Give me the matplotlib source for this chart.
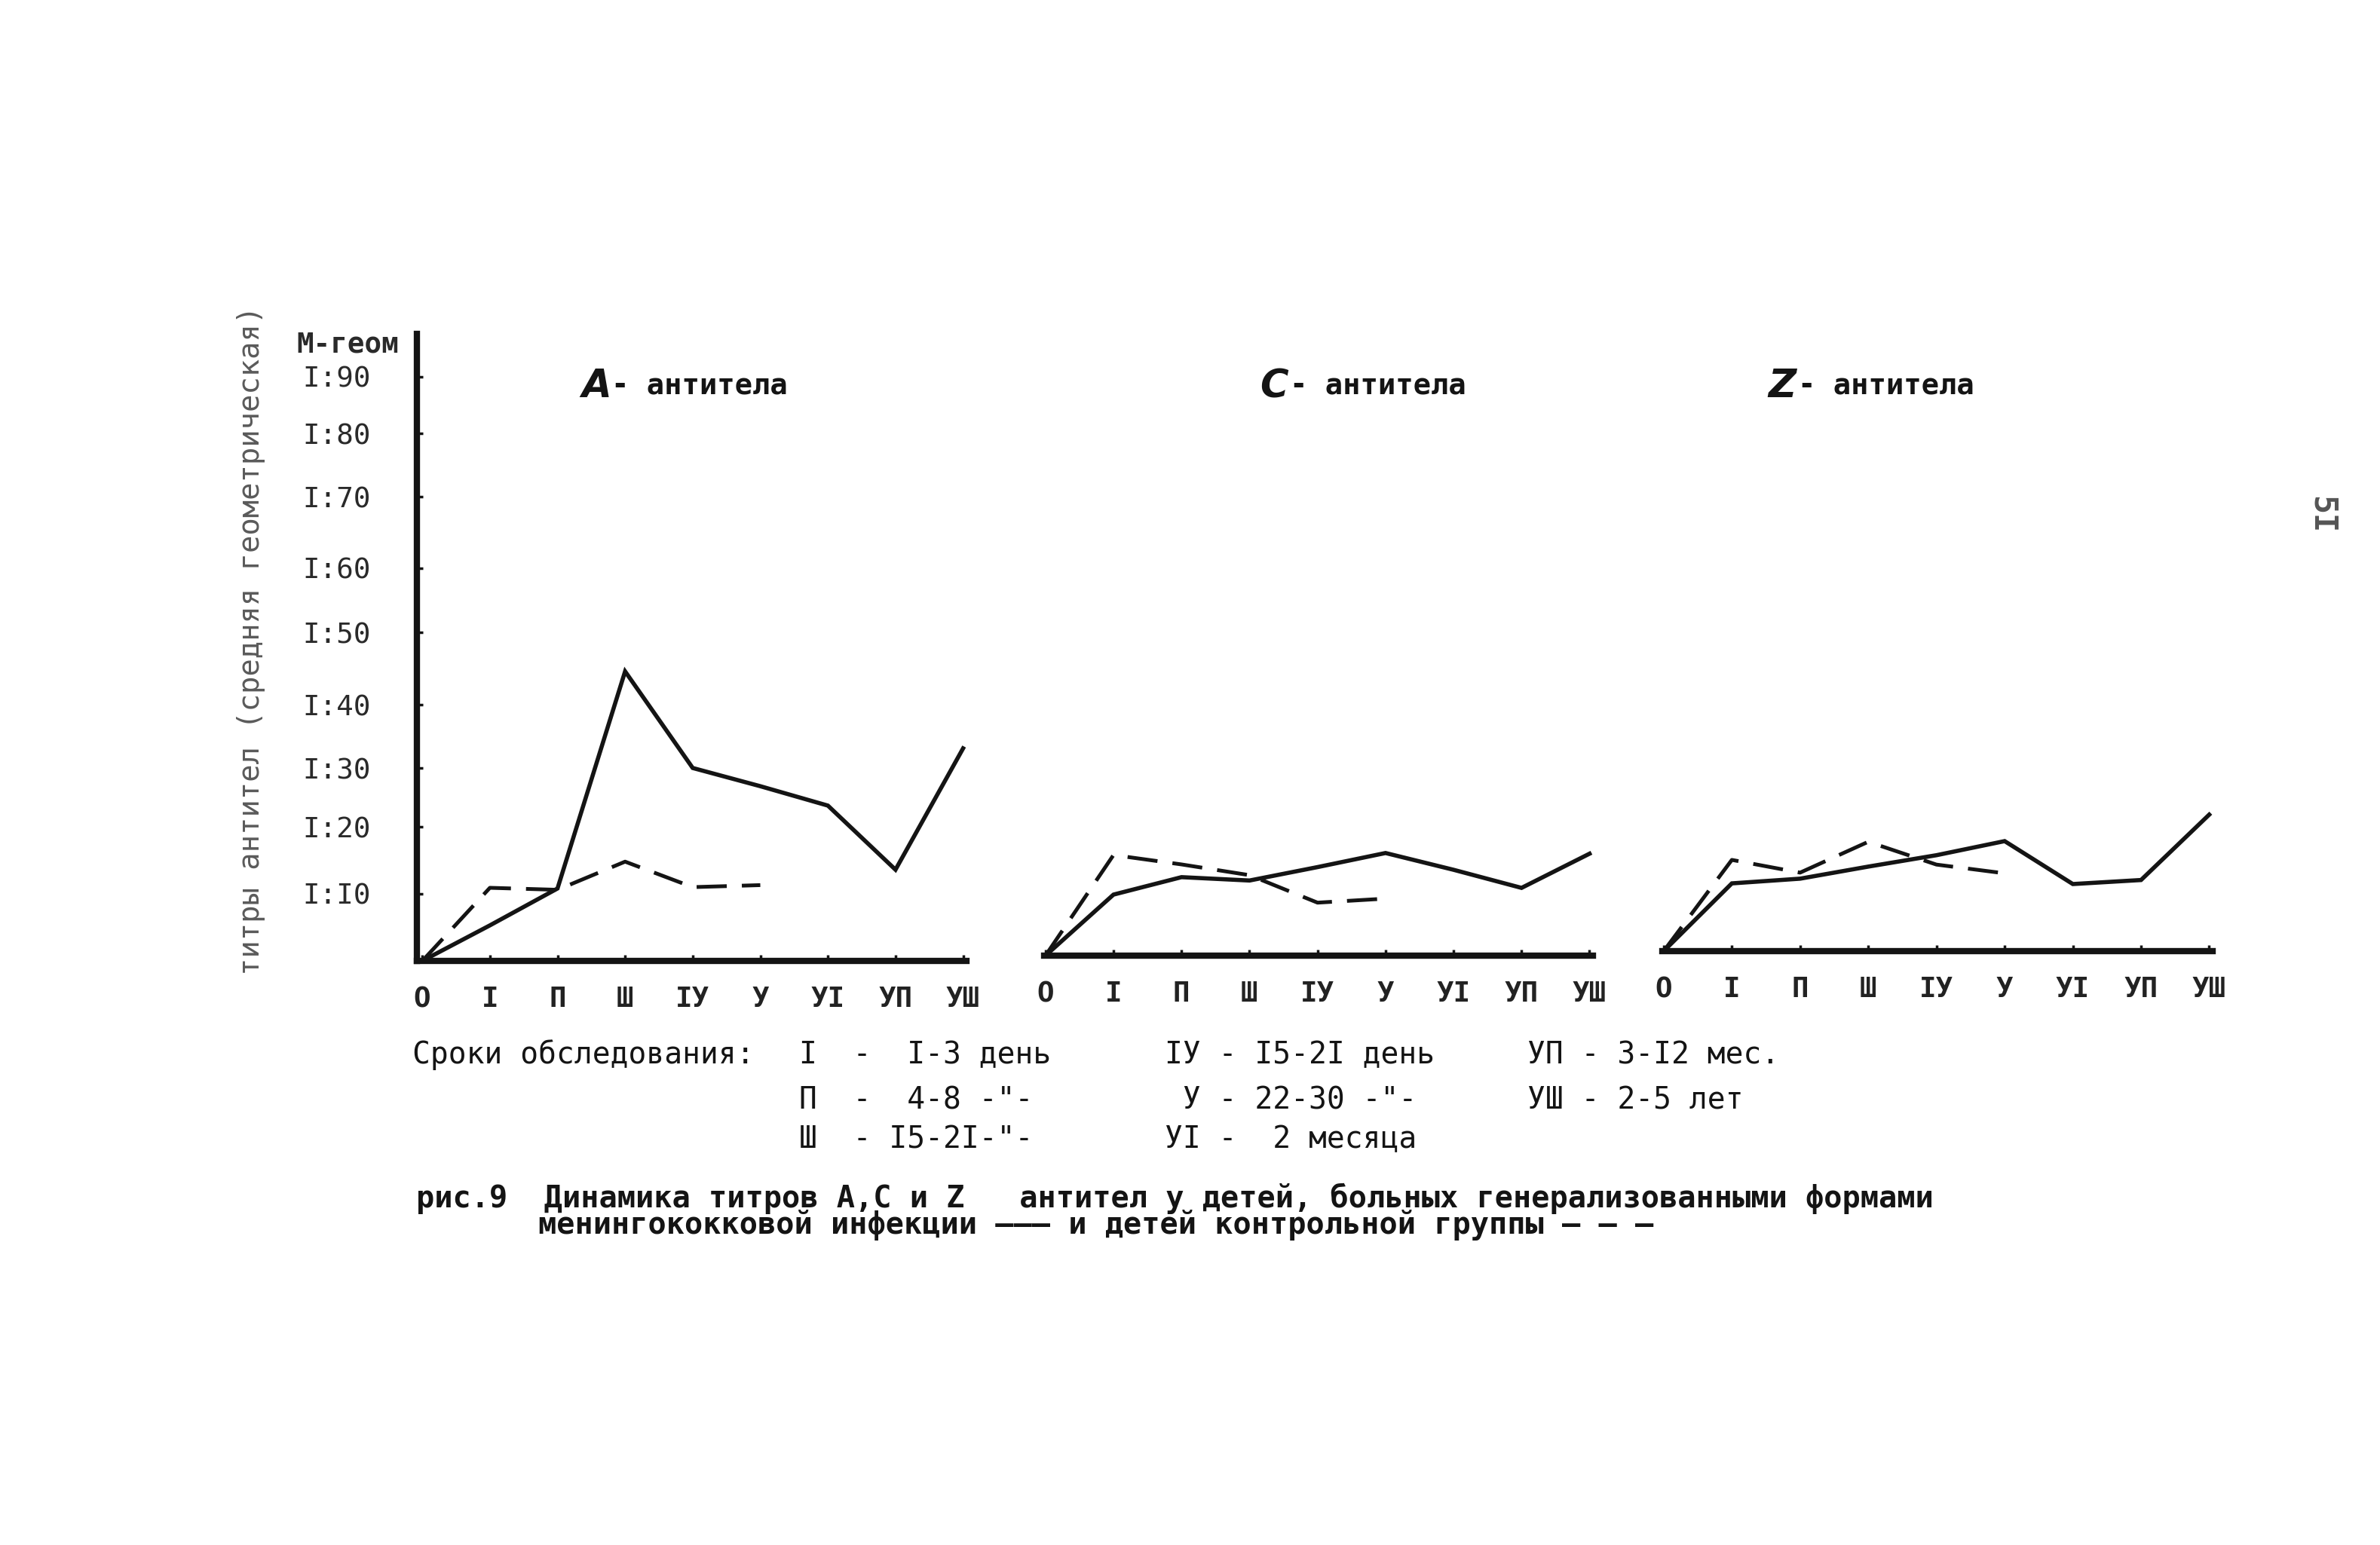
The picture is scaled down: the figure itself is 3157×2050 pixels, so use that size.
import numpy as np
import matplotlib.pyplot as plt

# observation periods (x axis), same for all three panels
periods = ['О', 'I', 'П', 'Ш', 'IУ', 'У', 'УI', 'УП', 'УШ']
x_all = np.arange(len(periods))
x_ctrl = x_all[:6]  # control group measured only up to "У"

# titres (1:N)
a_patients = [0, 5.3, 10.8, 44.6, 30.0, 26.9, 23.6, 13.6, 33.1]
a_control = [0, 10.9, 10.6, 14.8, 11.0, 11.3]
c_patients = [0, 9.1, 11.7, 11.2, 13.2, 15.3, 12.8, 10.1, 15.2]
c_control = [0, 15.0, 13.6, 12.0, 7.9, 8.5]
z_patients = [0, 10.1, 10.8, 12.6, 14.3, 16.4, 10.0, 10.6, 20.4]
z_control = [0, 13.6, 11.7, 16.3, 12.9, 11.6]

# the y axis was drawn by hand, the tick marks are not evenly spaced
y_ticks = [10, 20, 30, 40, 50, 60, 70, 80, 90]
y_ticklabels = ['I:I0', 'I:20', 'I:30', 'I:40', 'I:50', 'I:60', 'I:70', 'I:80', 'I:90']
tick_heights = [89, 178, 256, 340, 436, 521, 616, 700, 775]

legend_rows = [
    ['I  -  I-3 день', 'IУ - I5-2I день', 'УП - 3-I2 мес.'],
    ['П  -  4-8 -"-', ' У - 22-30 -"-', 'УШ - 2-5 лет'],
    ['Ш  - I5-2I-"-', 'УI -  2 месяца', ''],
]

ink = '#141414'
mono = 'DejaVu Sans Mono'
plt.rcParams['font.family'] = [mono, 'DejaVu Sans']

sv = np.array([-100, 0] + y_ticks + [200], dtype=float)
sp = np.array([-890, 0] + tick_heights + [775 + 110 * 7.5], dtype=float)


def fwd(v):
    return np.interp(v, sv, sp)


def inv(p):
    return np.interp(p, sp, sv)


W, H = 3157, 2050
fig = plt.figure(figsize=(W / 100, H / 100), dpi=100)
fig.patch.set_facecolor('white')

ytop = 97.6
ax_h = 832 / H


def make_ax(left_px, right_px, base_px, x0):
    ax = fig.add_axes([left_px / W, (H - base_px) / H, (right_px - left_px) / W, ax_h])
    ax.set_yscale('function', functions=(fwd, inv))
    ax.set_ylim(0, ytop)
    ax.set_xlim(x0, 8.05)
    for s in ['top', 'right']:
        ax.spines[s].set_visible(False)
    ax.spines['bottom'].set_linewidth(6)
    ax.spines['bottom'].set_color(ink)
    ax.set_xticks(x_all)
    ax.set_xticklabels(periods)
    ax.tick_params(axis='x', direction='in', length=6, width=2.5, color=ink,
                   pad=24, labelsize=27, labelcolor='#222222')
    for lab in ax.get_xticklabels():
        lab.set_fontweight('bold')
    ax.set_facecolor('none')
    return ax


ax_a = make_ax(553, 1282, 1275, -0.08)
ax_c = make_ax(1385, 2113, 1268, -0.02)
ax_z = make_ax(2205, 2935, 1262, -0.02)

ax_a.spines['left'].set_linewidth(6)
ax_a.spines['left'].set_color(ink)
ax_a.set_yticks(y_ticks)
ax_a.set_yticklabels(y_ticklabels)
ax_a.yaxis.set_minor_locator(plt.NullLocator())
ax_a.tick_params(axis='y', direction='in', length=6, width=2.5, color=ink,
                 pad=44, labelsize=27, labelcolor='#2a2a2a')

for ax in [ax_c, ax_z]:
    ax.spines['left'].set_visible(False)
    ax.set_yticks([])
    ax.yaxis.set_minor_locator(plt.NullLocator())

panels = [(ax_a, a_patients, a_control), (ax_c, c_patients, c_control),
          (ax_z, z_patients, z_control)]
for ax, pat, ctl in panels:
    ax.plot(x_all, pat, color=ink, lw=4, solid_joinstyle='miter', clip_on=False)
    ax.plot(x_ctrl, ctl, color=ink, lw=3.6, dashes=(8, 4), clip_on=False)

# panel titles
titles = [(771, 'А'), (1671, 'С'), (2345, 'Z')]
for xpx, letter in titles:
    fig.text(xpx / W, 1 - 513 / H, letter, fontsize=37, fontweight='bold',
             fontstyle='italic', family='DejaVu Sans', color=ink, va='center')
    fig.text((xpx + 40) / W, 1 - 513 / H, '- антитела', fontsize=28,
             fontweight='bold', color=ink, va='center')

fig.text(393 / W, 1 - 457 / H, 'M-геом', fontsize=27, fontweight='bold',
         color='#2a2a2a', va='center')
fig.text(333 / W, 1 - 850 / H, 'титры антител (средняя геометрическая)',
         fontsize=28, rotation=90, color='#5a5a5a', ha='center', va='center')
fig.text(3080 / W, 1 - 683 / H, '5I', fontsize=30, fontweight='bold',
         rotation=-90, color='#555555', ha='center', va='center')

# legend of examination periods
fig.text(547 / W, 1 - 1400 / H, 'Сроки обследования:', fontsize=28.5,
         color=ink, va='center')
col_x = [1060, 1545, 2026]
row_y = [1400, 1460, 1512]
for r, row in enumerate(legend_rows):
    for c, txt in enumerate(row):
        fig.text(col_x[c] / W, 1 - row_y[r] / H, txt, fontsize=28.5,
                 color=ink, va='center')

fig.text(552 / W, 1 - 1590 / H,
         'рис.9  Динамика титров А,С и Z   антител у детей, больных генерализованными формами',
         fontsize=29, fontweight='bold', color=ink, va='center')
fig.text(714 / W, 1 - 1625 / H,
         'менингококковой инфекции ——— и детей контрольной группы — — —',
         fontsize=29, fontweight='bold', color=ink, va='center')

fig.savefig('out.png', dpi=100, facecolor='white')
